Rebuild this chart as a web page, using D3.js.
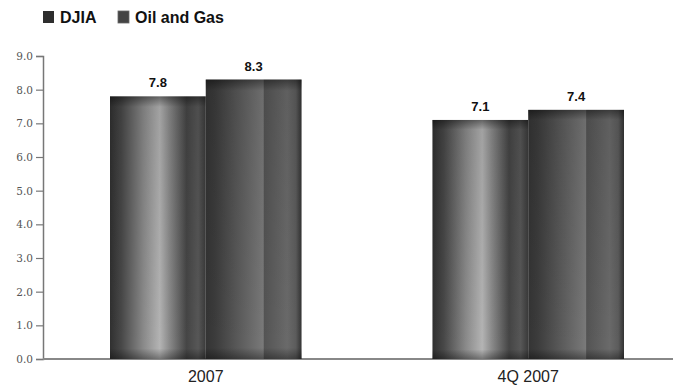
<!DOCTYPE html>
<html>
<head>
<meta charset="utf-8">
<script src="https://cdn.jsdelivr.net/npm/d3@7"></script>
<style>
  html, body { margin: 0; padding: 0; background: #fff; }
  svg { display: block; }
</style>
</head>
<body>
<div id="chart"></div>
<script>
// chart data
const periods = ['2007', '4Q 2007'];
const seriesNames = ['DJIA', 'Oil and Gas'];
const djia = [7.8, 7.1];
const oilGas = [8.3, 7.4];
const yTicks = [0, 1, 2, 3, 4, 5, 6, 7, 8, 9];

const width = 673, height = 387;

const svg = d3.select('#chart').append('svg')
    .attr('width', width)
    .attr('height', height);

// gradients to fake the cylinder shading of the bars
const defs = svg.append('defs');
const gradStops = {
  DJIA: [[0, '#303030'], [0.12, '#484848'], [0.35, '#8a8a8a'], [0.52, '#b4b4b4'], [0.62, '#8a8a8a'], [0.8, '#454545'], [0.92, '#575757'], [1, '#3a3a3a']],
  'Oil and Gas': [[0, '#343434'], [0.1, '#3c3c3c'], [0.3, '#555555'], [0.55, '#737373'], [0.6, '#7a7a7a'], [0.61, '#545454'], [0.85, '#6a6a6a'], [0.94, '#5c5c5c'], [1, '#333333']]
};
seriesNames.forEach((name, i) => {
  const g = defs.append('linearGradient')
      .attr('id', 'grad' + i)
      .attr('x1', 0).attr('x2', 1).attr('y1', 0).attr('y2', 0);
  gradStops[name].forEach(s => {
    g.append('stop').attr('offset', s[0]).attr('stop-color', s[1]);
  });
});
// slight darkening at the top and bottom of each bar
const vShade = defs.append('linearGradient')
    .attr('id', 'vshade')
    .attr('x1', 0).attr('x2', 0).attr('y1', 0).attr('y2', 1);
vShade.append('stop').attr('offset', 0).attr('stop-color', '#000').attr('stop-opacity', 0.45);
vShade.append('stop').attr('offset', 0.04).attr('stop-color', '#000').attr('stop-opacity', 0.1);
vShade.append('stop').attr('offset', 0.96).attr('stop-color', '#000').attr('stop-opacity', 0);
vShade.append('stop').attr('offset', 1).attr('stop-color', '#000').attr('stop-opacity', 0.35);

// scales
const y = d3.scaleLinear().domain([0, 9]).range([359, 56]);
const x = d3.scaleBand().domain(periods).range([110, 624]).paddingInner(0.406).paddingOuter(0);
const xSub = d3.scaleBand().domain(seriesNames).range([0, x.bandwidth()]).padding(0);

// y axis
const yAxis = svg.append('g')
    .attr('transform', 'translate(43,0)')
    .call(d3.axisLeft(y).tickValues(yTicks).tickFormat(d3.format('.1f')).tickSize(7).tickPadding(3));
yAxis.select('.domain').attr('stroke', '#777').attr('stroke-width', 1.5);
yAxis.selectAll('.tick line').attr('stroke', '#777').attr('stroke-width', 1.2);
yAxis.selectAll('.tick text')
    .attr('fill', '#555')
    .style('font-family', '"DejaVu Serif", serif')
    .style('font-size', '10.5px');

// baseline
svg.append('line')
    .attr('x1', 43).attr('x2', width)
    .attr('y1', y(0)).attr('y2', y(0))
    .attr('stroke', '#888')
    .attr('stroke-width', 2);

// bars
const rows = periods.map((p, i) => ({ period: p, values: [djia[i], oilGas[i]] }));

const groups = svg.append('g').selectAll('g')
  .data(rows)
  .join('g')
    .attr('transform', d => `translate(${x(d.period)},0)`);

const bars = groups.selectAll('g.bar')
  .data(d => d.values.map((v, j) => ({ name: seriesNames[j], idx: j, value: v })))
  .join('g').attr('class', 'bar');

bars.append('rect')
    .attr('x', d => xSub(d.name))
    .attr('y', d => y(d.value))
    .attr('width', xSub.bandwidth())
    .attr('height', d => y(0) - y(d.value))
    .attr('fill', d => `url(#grad${d.idx})`);

bars.append('rect')
    .attr('x', d => xSub(d.name))
    .attr('y', d => y(d.value))
    .attr('width', xSub.bandwidth())
    .attr('height', d => y(0) - y(d.value))
    .attr('fill', 'url(#vshade)');

bars.append('text')
    .attr('x', d => xSub(d.name) + xSub.bandwidth() / 2)
    .attr('y', d => y(d.value) - 9)
    .attr('text-anchor', 'middle')
    .style('font-family', '"Liberation Sans", Arial, sans-serif')
    .style('font-weight', 'bold')
    .style('font-size', '13px')
    .attr('fill', '#111')
    .text(d => d.value.toFixed(1));

// category labels
svg.append('g').selectAll('text')
  .data(periods)
  .join('text')
    .attr('x', d => x(d) + x.bandwidth() / 2)
    .attr('y', 382)
    .attr('text-anchor', 'middle')
    .style('font-family', '"Liberation Sans", Arial, sans-serif')
    .style('font-size', '16px')
    .attr('fill', '#222')
    .text(d => d);

// legend
const legendX = [43, 118];
const legend = svg.append('g').selectAll('g')
  .data(seriesNames)
  .join('g')
    .attr('transform', (d, i) => `translate(${legendX[i]},11)`);
legend.append('rect')
    .attr('width', 11).attr('height', 12)
    .attr('fill', (d, i) => i === 0 ? '#2e2e2e' : '#444')
    .attr('stroke', (d, i) => i === 0 ? 'none' : '#666')
    .attr('stroke-width', 0.8);
legend.append('text')
    .attr('x', 17)
    .attr('y', 12)
    .style('font-family', '"Liberation Sans", Arial, sans-serif')
    .style('font-weight', 'bold')
    .style('font-size', '16px')
    .attr('fill', '#111')
    .text(d => d);
</script>
</body>
</html>
